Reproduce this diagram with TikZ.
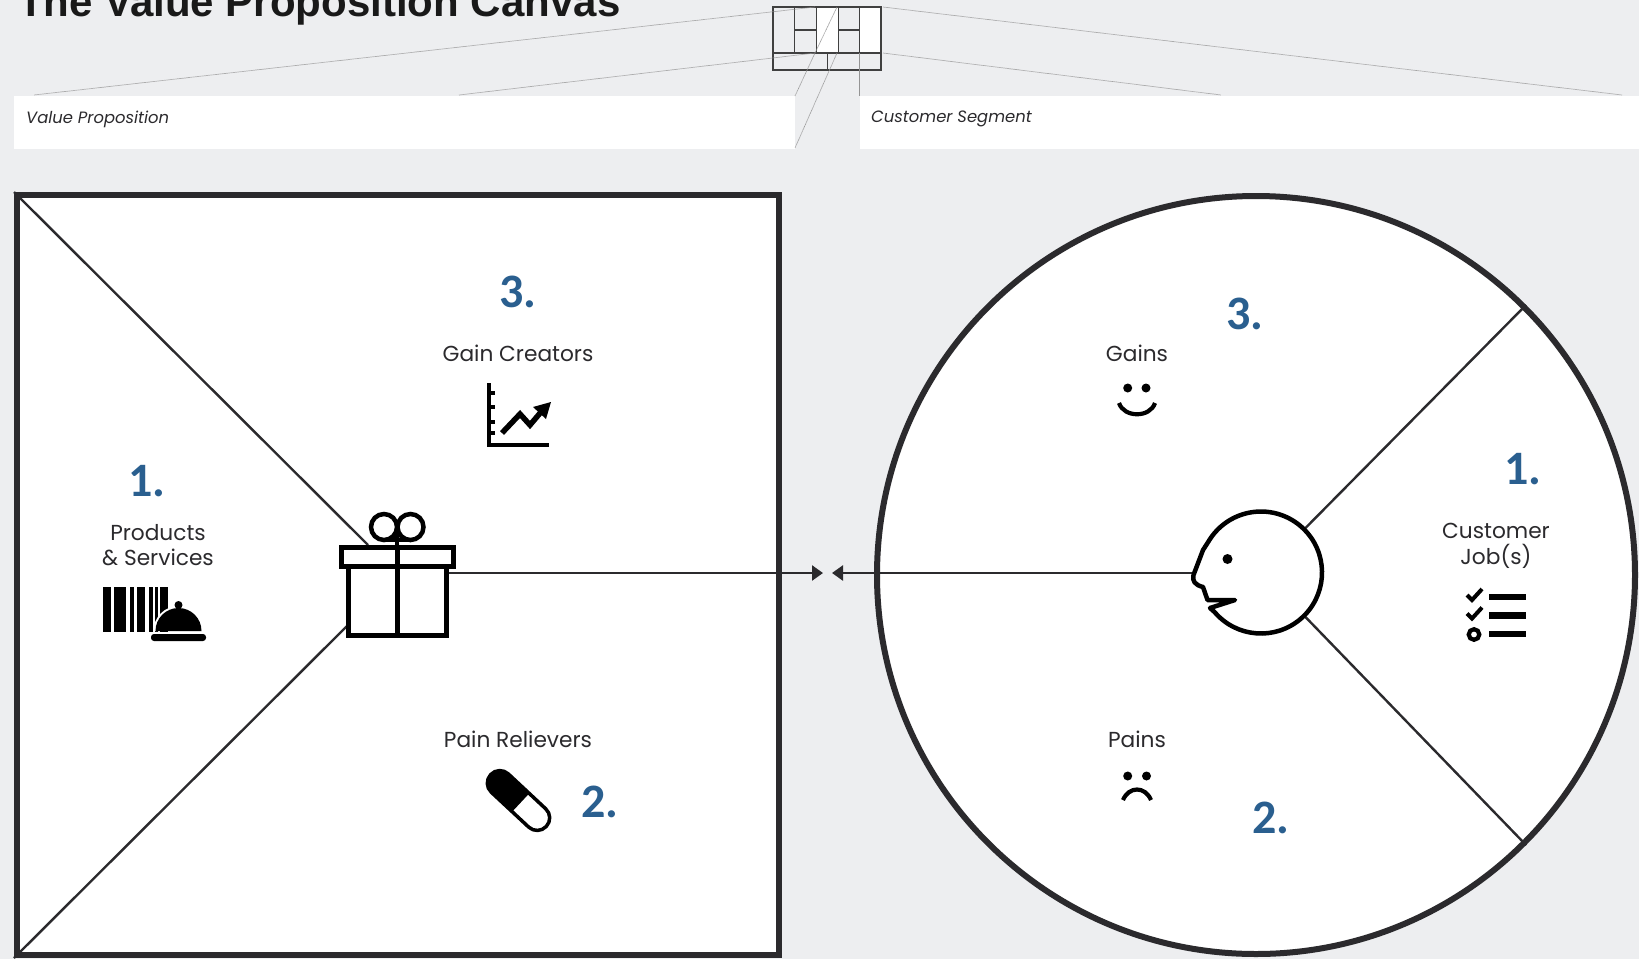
\documentclass[tikz,border=0pt]{standalone}
\usepackage{fontspec}
\setmainfont{Poppins}
\newfontfamily\titlefont{Liberation Sans}
\newfontfamily\numfont{Carlito}
\usetikzlibrary{arrows.meta,positioning}
\definecolor{canvasbg}{HTML}{EDEEF0}
\definecolor{numblue}{HTML}{2A5F8F}
\definecolor{inkdark}{HTML}{2B2A2D}

\tikzset{
  boxlabel/.style={inner sep=0pt, text=inkdark, align=center, font=\fontsize{21.7}{25.5}\selectfont},
  numlabel/.style={inner sep=0pt, text=numblue, font=\numfont\bfseries\fontsize{48}{48}\selectfont},
  seglabel/.style={anchor=west, inner sep=0pt, text=inkdark, font=\itshape\fontsize{16.4}{16.4}\selectfont},
  guide/.style={draw=black!42, line width=0.7pt, dash pattern=on 0.5pt off 0.5pt},
  mini/.style={draw=black!75, line width=1.2pt},
  spoke/.style={draw=inkdark, line width=2.4pt},
  icon/.style={draw=black, line width=5pt},
  tip/.style={-{Triangle[length=11pt,width=15pt]}},
}

\begin{document}
\begin{tikzpicture}[x=1pt, y=-1pt]
  \useasboundingbox (0,0) rectangle (1639,959);
  \fill[canvasbg] (0,0) rectangle (1639,959);
  \clip (0,0) rectangle (1639,959);

  % heading and the two white bands
  \node[anchor=base west, inner sep=0pt, text=black!90, font=\titlefont\bfseries\fontsize{42}{42}\selectfont] (heading) at (18,16) {The Value Proposition Canvas};
  \fill[white] (14,96) rectangle (795,149);
  \fill[white] (859.5,96) rectangle (1639,149);
  \node[seglabel] (vplabel) at (26,119) {Value Proposition};
  \node[seglabel] (cslabel) at (871,119) {Customer Segment};

  % small canvas at the top
  \fill[white] (816,7) rectangle (838,53);
  \fill[white] (859.5,7) rectangle (881,53);
  \draw[mini] (773,7) rectangle (881,70);
  \draw[mini] (773,53) -- (881,53);
  \draw[mini, line width=0.8pt] (794.5,7) -- (794.5,53);
  \draw[mini, line width=0.8pt] (816,7) -- (816,53);
  \draw[mini, line width=0.8pt] (838,7) -- (838,53);
  \draw[mini, line width=0.8pt] (859.5,7) -- (859.5,53);
  \draw[mini, line width=0.8pt] (827,53) -- (827,70);
  \draw[mini] (794.5,30) -- (816,30);
  \draw[mini] (838,30) -- (859.5,30);
  \draw[guide] (837,7) -- (815,53);

  % guide lines down to the bands
  \draw[guide] (815,7) -- (34,95);
  \draw[guide] (815,53) -- (459,95);
  \draw[guide] (883,7) -- (1622,95);
  \draw[guide] (883,53) -- (1221,95);
  \draw[guide] (815,53) -- (795,96);
  \draw[guide] (837,53) -- (795,148);
  \draw[guide] (859.5,53) -- (859.5,96);

  % value proposition square
  \node[draw=inkdark, fill=white, line width=6pt, minimum width=762pt, minimum height=760pt, inner sep=0pt] (valuesq) at (398,575) {};
  \coordinate (giftnw) at (368,545);
  \coordinate (giftsw) at (347,626);
  \coordinate (giftout) at (448,573);
  \draw[spoke] (valuesq.north west) -- (giftnw);
  \draw[spoke] (valuesq.south west) -- (giftsw);

  % customer circle
  \node[draw=inkdark, fill=white, circle, line width=6pt, minimum size=758pt, inner sep=0pt] (custcirc) at (1256,575) {};
  \node[circle, minimum size=122pt, inner sep=0pt] (facehead) at (1261,572.5) {};
  \draw[spoke] (facehead.45) -- (custcirc.45);
  \draw[spoke] (facehead.-45) -- (custcirc.-45);

  % arrows in the gap
  \coordinate (tipright) at (823,573);
  \coordinate (tipleft) at (832,573);
  \coordinate (facenose) at (1193,573);
  \draw[spoke, tip, draw=inkdark, fill=inkdark] (giftout) -- (tipright);
  \draw[spoke, tip, draw=inkdark, fill=inkdark] (facenose) -- (tipleft);

  % gift
  \node[icon, minimum width=98pt, minimum height=69pt, inner sep=0pt] (giftbody) at (397,600.5) {};
  \node[icon, minimum width=112pt, minimum height=19pt, inner sep=0pt, fill=white] (giftlid) at (397,556.5) {};
  \draw[icon] (giftlid.north) -- (giftbody.south);
  \draw[icon, line width=4.5pt] (384,527) circle[radius=13];
  \draw[icon, line width=4.5pt] (410.5,527) circle[radius=13];
  \draw[icon, line width=4.5pt] (384,540) -- (410.5,540);
  \draw[icon, line width=4.5pt] (397,528) -- (giftlid.north);

  % face
  \draw[icon, line width=4.5pt, line join=round] (1209,540.7) -- (1203,550) -- (1193.5,575) .. controls (1192,581) and (1195,585) .. (1203,587) -- (1207.5,600) -- (1235,600) -- (1210,608) -- (1214.7,612.2) arc[start angle=139.4, end angle=-148.5, radius=61];
  \fill (1227.5,559) circle[radius=5];

  % text on the square
  \node[boxlabel] (prodlabel) at (158,545) {Products\\\& Services};
  \node[numlabel, above=27pt of prodlabel, xshift=-11pt] (prodnum) {1.};
  \node[boxlabel] (gainclabel) at (518,353) {Gain Creators};
  \node[numlabel, above=36pt of gainclabel] (gaincnum) {3.};
  \node[boxlabel] (painrlabel) at (518,739) {Pain Relievers};
  \node[numlabel] (painrnum) at (600,802) {2.};

  % text on the circle
  \node[boxlabel] (gainslabel) at (1137,353) {Gains};
  \node[numlabel] (gainsnum) at (1245,314) {3.};
  \node[boxlabel] (painslabel) at (1137,739) {Pains};
  \node[numlabel] (painsnum) at (1271,818) {2.};
  \node[boxlabel] (jobslabel) at (1496,546) {Customer\\Job(s)};
  \node[numlabel] (jobsnum) at (1523,469) {1.};

  % barcode and cloche
  \fill (103,587) rectangle (111,632);
  \fill (114,587) rectangle (126,632);
  \fill (130,587) rectangle (134,632);
  \fill (137,587) rectangle (145,632);
  \fill (149,587) rectangle (153,632);
  \fill (155,587) rectangle (158,632);
  \fill (160,587) rectangle (168,632);
  \draw[white, line width=4pt] (155.5,631) arc[start angle=180, end angle=360, x radius=23, y radius=23];
  \fill (155.5,631) arc[start angle=180, end angle=360, x radius=23, y radius=23] -- cycle;
  \fill (178.5,605) circle[radius=4];
  \fill[rounded corners=3pt] (151,634) rectangle (206,641);

  % chart
  \draw[icon, line width=4.5pt] (489,383) -- (489,445) -- (549,445);
  \draw[icon, line width=4pt] (489,393) -- (495,393);
  \draw[icon, line width=4pt] (489,407) -- (495,407);
  \draw[icon, line width=4pt] (489,422) -- (495,422);
  \draw[icon, line width=4pt] (489,433) -- (495,433);
  \draw[icon, line width=5.5pt] (502,433) -- (520,414) -- (530,425) -- (541,412);
  \fill (551,402) -- (533,407) -- (546,419) -- cycle;

  % pill
  \begin{scope}[shift={(518.5,800.5)}, rotate=-43]
    \draw[icon, line width=3.5pt, rounded corners=12.4pt, fill=white] (-38,-12.5) rectangle (38,12.5);
    \fill[rounded corners=12.4pt] (-38,-12.5) rectangle (0,12.5);
    \fill (-12,-12.5) rectangle (3,12.5);
  \end{scope}

  % smile and frown
  \fill (1127.7,388) circle[radius=4.5];
  \fill (1146,388) circle[radius=4.5];
  \draw[icon, line width=4.2pt] (1119,403) .. controls (1124,418) and (1150,418) .. (1155,403);
  \fill (1127.7,776) circle[radius=4.5];
  \fill (1146.5,776) circle[radius=4.5];
  \draw[icon, line width=4.2pt] (1123,800) .. controls (1129,786) and (1145,786) .. (1151,800);

  % checklist
  \draw[icon, line width=4pt] (1467,595) -- (1472,600) -- (1482,589);
  \draw[icon, line width=4pt] (1467,613.5) -- (1472,618.5) -- (1482,607.5);
  \draw[icon, line width=4.2pt] (1474,634.5) circle[radius=5.3];
  \fill (1489,593.5) rectangle (1526,600);
  \fill (1489,612) rectangle (1526,618.5);
  \fill (1489,630.5) rectangle (1526,637);
\end{tikzpicture}
\end{document}
